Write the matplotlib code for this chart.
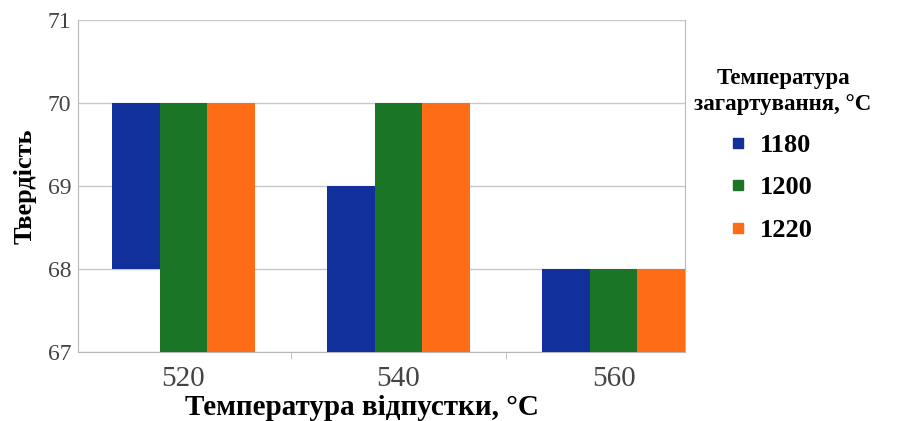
import numpy as np
import matplotlib.pyplot as plt
from matplotlib.lines import Line2D

# a. data
tempering = ['520', '540', '560']
quench_temps = ['1180', '1200', '1220']
hardness_1180 = [70, 69, 68]
hardness_1200 = [70, 70, 68]
hardness_1220 = [70, 70, 68]
bottom_1180 = [68, 67, 67]
bottom_1200 = [67, 67, 67]
bottom_1220 = [67, 67, 67]
colors = ['#12309c', '#1b7526', '#ff6c16']

plt.rcParams['font.family'] = ['Liberation Serif', 'DejaVu Serif']

# b. figure and axes
fig = plt.figure(figsize=(8.98, 4.21), dpi=100)
ax = fig.add_axes([0.087, 0.164, 0.676, 0.789])

x = np.arange(len(tempering))
w = 0.222
tops = [hardness_1180, hardness_1200, hardness_1220]
bottoms = [bottom_1180, bottom_1200, bottom_1220]
for i in range(3):
    h = np.array(tops[i]) - np.array(bottoms[i])
    ax.bar(x + (i - 1) * w, h, w, bottom=bottoms[i], color=colors[i], zorder=3)

# c. axes styling
ax.set_xlim(-0.49, 2.333)
ax.set_ylim(67, 71)
ax.set_yticks([67, 68, 69, 70, 71])
ax.set_xticks(x)
ax.set_xticklabels(tempering, fontsize=21, color='#444444')
ax.set_xticks([0.5, 1.5], minor=True)
ax.tick_params(axis='x', which='major', length=0, pad=10)
ax.tick_params(axis='x', which='minor', length=5, color='#bbbbbb')
ax.tick_params(axis='y', length=0, labelsize=17, labelcolor='#444444', pad=5)
ax.grid(axis='y', color='#c8c8c8', linewidth=1, zorder=0)
for s in ['left', 'right', 'bottom']:
    ax.spines[s].set_color('#b8b8b8')
ax.spines['top'].set_visible(False)

ax.set_xlabel('Температура відпустки, °C', fontsize=21, fontweight='bold')
ax.xaxis.set_label_coords(0.468, -0.128)
ax.set_ylabel('Твердість', fontsize=19, fontweight='bold', labelpad=8)

# d. legend (title as separate text so the entries can sit left of centre)
fig.text(0.872, 1 - 68 / 421, 'Температура\nзагартування, °C', ha='center',
         va='top', multialignment='center', fontsize=16.5, fontweight='bold',
         linespacing=1.3)
handles = [Line2D([], [], marker='s', linestyle='none', markersize=7,
                  color=c) for c in colors]
fig.legend(handles, quench_temps, loc='upper left',
           bbox_to_anchor=(0.807, 0.683), borderaxespad=0, borderpad=0,
           frameon=False, prop={'size': 19, 'weight': 'bold'},
           labelspacing=0.72, handletextpad=0.35, handlelength=1.0)

fig.savefig('out.png', dpi=100)
